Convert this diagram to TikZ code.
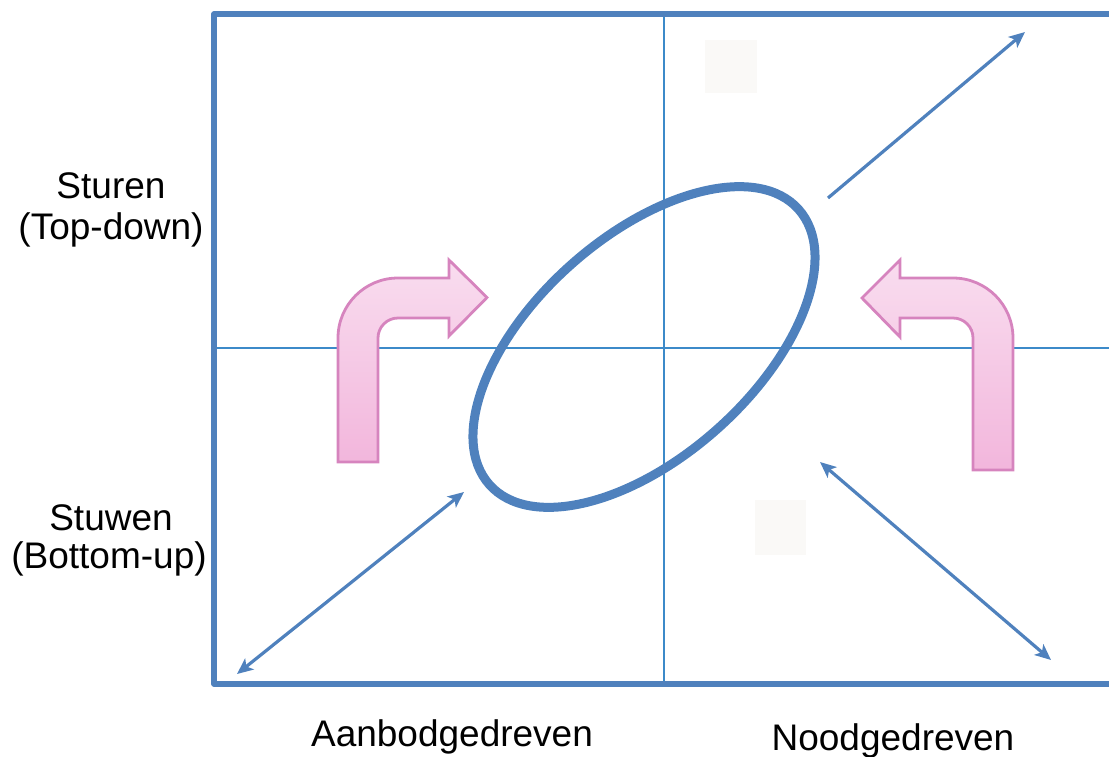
\documentclass[tikz,border=0pt]{standalone}
\usepackage{fontspec}
\setmainfont{Liberation Sans}
\usetikzlibrary{shapes.geometric,arrows.meta}
\definecolor{frameblue}{HTML}{4F81BD}
\definecolor{lineblue}{HTML}{3C8AC9}
\definecolor{pinkfillA}{HTML}{F9DDEF}
\definecolor{pinkfillB}{HTML}{F2B6DC}
\definecolor{pinkedge}{HTML}{D684BE}
\definecolor{ghost}{HTML}{FAF9F7}
\begin{document}
\begin{tikzpicture}[x=1pt,y=-1pt,
  frame/.style={draw=frameblue, line width=5.5pt, line join=round, line cap=round},
  axisline/.style={draw=lineblue, line width=1.3pt},
  diag/.style={draw=frameblue, line width=3.2pt},
  pinkarrow/.style={draw=pinkedge, line width=2.8pt, top color=pinkfillA, bottom color=pinkfillB},
  lbl/.style={font=\fontsize{37}{44}\selectfont, anchor=base, inner sep=0pt},
  ghostbox/.style={fill=ghost, inner sep=0pt}
]
\useasboundingbox (0,0) rectangle (1109,756);
% faint squares
\node[ghostbox, minimum width=52pt, minimum height=53pt] (g1) at (731,66.5) {};
\node[ghostbox, minimum width=51pt, minimum height=55pt] (g2) at (780.5,527.5) {};
% axis lines
\coordinate (vt) at (664,14);
\coordinate (vb) at (664,684);
\coordinate (hl) at (214,348);
\coordinate (hr) at (1109,348);
\draw[axisline] (vt) -- (vb);
\draw[axisline] (hl) -- (hr);
% frame
\coordinate (ftr) at (1112,14);
\coordinate (ftl) at (214,14);
\coordinate (fbl) at (214,684);
\coordinate (fbr) at (1112,684);
\draw[frame] (ftr) -- (ftl) -- (fbl) -- (fbr);
% pink arrows
\draw[pinkarrow] (338,462) -- (338,338) arc[start angle=180, end angle=90, radius=60pt]
  -- (449,278) -- (449,260) -- (487,297.5) -- (449,336) -- (449,318) -- (398,318)
  arc[start angle=90, end angle=180, radius=20pt] -- (378,462) -- cycle;
\draw[pinkarrow] (1013,470) -- (1013,338) arc[start angle=0, end angle=90, radius=60pt]
  -- (900,278) -- (900,260) -- (862,298) -- (900,337) -- (900,318) -- (953,318)
  arc[start angle=90, end angle=0, radius=20pt] -- (973,470) -- cycle;
% ellipse
\node[ellipse, draw=frameblue, line width=9pt, minimum width=414pt, minimum height=220pt,
      rotate=41.7, inner sep=0pt] (loop) at (644,347) {};
% diagonal arrows
\coordinate (a1s) at (464,492);
\coordinate (a1e) at (237,674);
\coordinate (a2s) at (828,198);
\coordinate (a2e) at (1025,32);
\coordinate (a3s) at (820,462);
\coordinate (a3e) at (1051,660);
\draw[diag, {Stealth[length=16pt,width=14pt,inset=4pt]}-{Stealth[length=16pt,width=14pt,inset=4pt]}] (a1s) -- (a1e);
\draw[diag, -{Stealth[length=16pt,width=14pt,inset=4pt]}] (a2s) -- (a2e);
\draw[diag, {Stealth[length=16pt,width=14pt,inset=4pt]}-{Stealth[length=16pt,width=14pt,inset=4pt]}] (a3s) -- (a3e);
% labels
\node[lbl] (t1) at (111,198) {Sturen};
\node[lbl] (t2) at (111,239) {(Top-down)};
\node[lbl] (t3) at (111,530) {Stuwen};
\node[lbl] (t4) at (109,568) {(Bottom-up)};
\node[lbl] (t5) at (452,746) {Aanbodgedreven};
\node[lbl] (t6) at (893,750) {Noodgedreven};
\end{tikzpicture}
\end{document}
